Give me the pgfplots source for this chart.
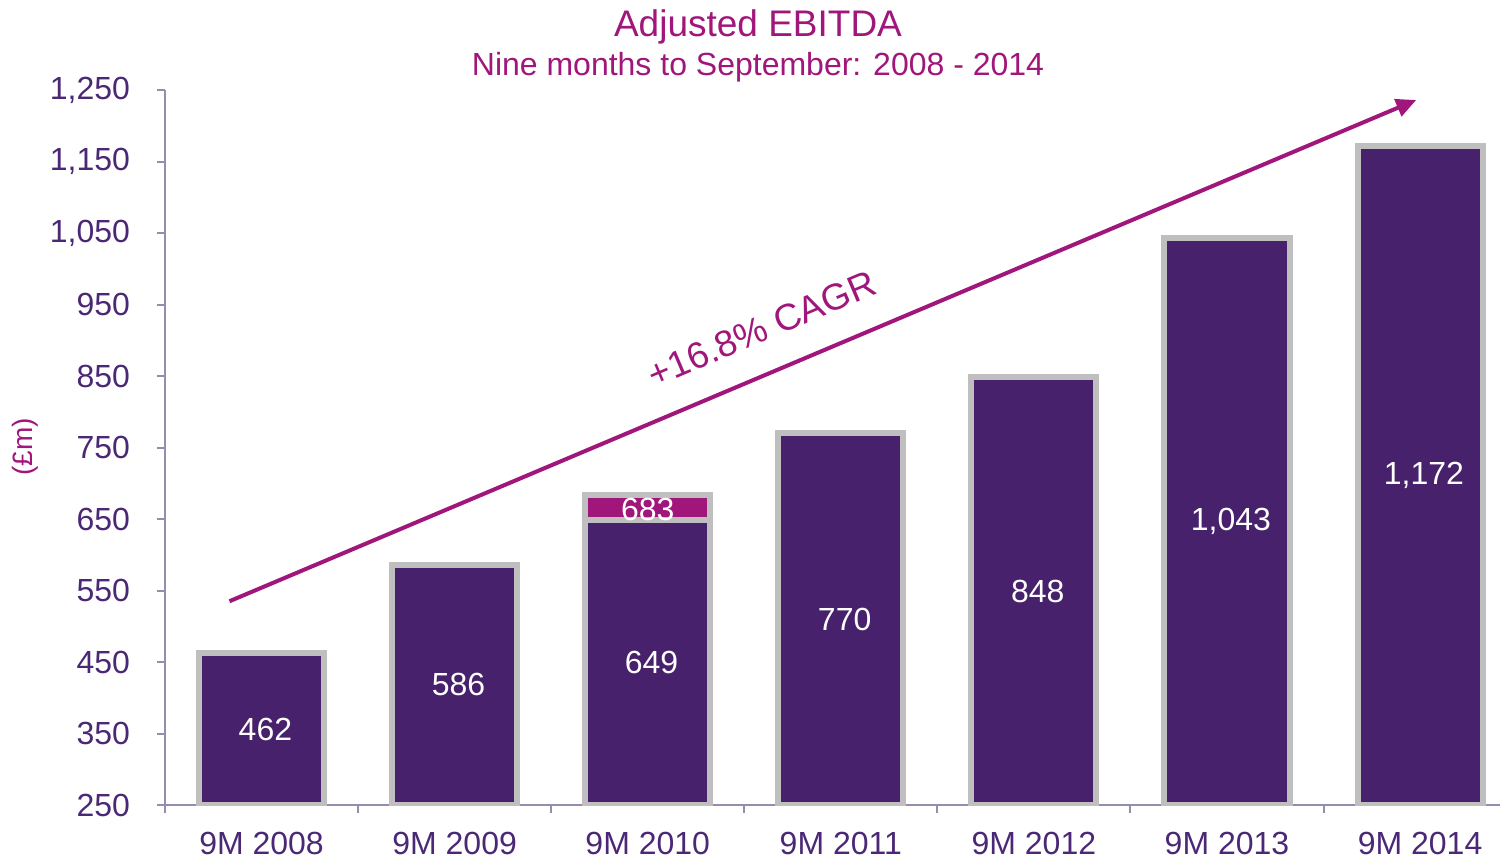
\documentclass[border=0pt]{standalone}
\usepackage{fontspec}
\setmainfont{Liberation Sans}
\usepackage{pgfplots}
\pgfplotsset{compat=1.18}
\usetikzlibrary{arrows.meta}
\definecolor{barpurple}{RGB}{71,33,107}
\definecolor{mag}{RGB}{160,22,122}
\definecolor{txtpurple}{RGB}{75,40,118}
\definecolor{axgray}{RGB}{150,140,172}
\definecolor{bordergray}{RGB}{191,191,191}
\begin{document}
\begin{tikzpicture}
\path[use as bounding box] (-82.5pt,-27pt) rectangle (668.5pt,402.5pt);
\begin{axis}[
  scale only axis, width=667.5pt, height=357.5pt,
  at={(0,0)}, anchor=south west,
  xmin=-0.5, xmax=6.414, ymin=250, ymax=1250,
  axis x line*=bottom, axis y line*=left,
  axis line style={axgray, line width=1pt},
  every tick/.style={axgray, line width=1pt},
  tick align=outside,
  major tick length=4pt,
  ytick={250,350,...,1250},
  xtick={-0.5,0.5,...,5.5},
  xticklabels={},
  extra x ticks={0,1,2,3,4,5,6},
  extra x tick labels={9M 2008,9M 2009,9M 2010,9M 2011,9M 2012,9M 2013,9M 2014},
  extra x tick style={major tick length=0pt, grid=none},
  xticklabel style={font=\fontsize{16}{19}\selectfont, text=txtpurple, yshift=-10pt},
  yticklabel style={font=\fontsize{16}{19}\selectfont, text=txtpurple, xshift=-10pt},
  /pgf/number format/.cd, 1000 sep={,}, assume math mode=true,
]
\addplot[ybar, bar width=0.648, bar shift=0pt, fill=barpurple, draw=bordergray, line width=3pt]
  coordinates {(0,462)(1,586)(3,770)(4,848)(5,1043)(6,1172)};
\addplot[ybar, bar width=0.648, bar shift=0pt, fill=mag, draw=bordergray, line width=3pt]
  coordinates {(2,683)};
\addplot[ybar, bar width=0.648, bar shift=0pt, fill=barpurple, draw=bordergray, line width=3pt]
  coordinates {(2,649)};

\begin{scope}[every node/.style={text=white, font=\fontsize{16}{19}\selectfont}]
\node at (axis cs:0.02,356) {462};
\node at (axis cs:1.02,418) {586};
\node at (axis cs:2.02,449.5) {649};
\node at (axis cs:2.0,664) {683};
\node at (axis cs:3.02,510) {770};
\node at (axis cs:4.02,549) {848};
\node at (axis cs:5.02,646.5) {1,043};
\node at (axis cs:6.02,711) {1,172};
\end{scope}

\draw[mag, line width=2pt, -{Triangle[length=10pt,width=9pt]}] (axis cs:-0.166,535) -- (axis cs:5.98,1236);
\node[text=mag, rotate=23, font=\fontsize{18.5}{22}\selectfont] at (axis cs:2.59,916) {+16.8\% CAGR};
\end{axis}
\node[text=mag, font=\fontsize{18.5}{22}\selectfont] at (296.5pt,389pt) {Adjusted EBITDA};
\node[text=mag, font=\fontsize{16}{19}\selectfont] at (296.5pt,369pt) {Nine months to September: 2008 - 2014};
\node[text=mag, rotate=90, font=\fontsize{14}{17}\selectfont] at (-70pt,179pt) {(£m)};
\end{tikzpicture}
\end{document}
